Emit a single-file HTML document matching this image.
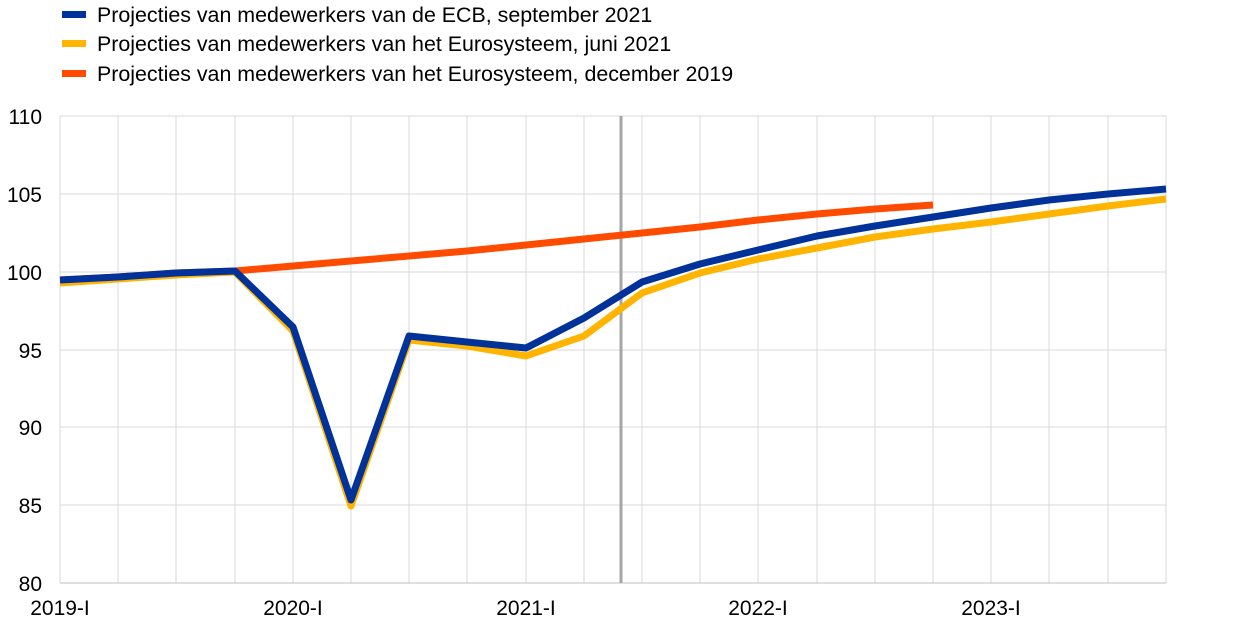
<!DOCTYPE html>
<html><head><meta charset="utf-8"><style>
body{margin:0;background:#fff;}
svg text{font-family:"Liberation Sans",Arial,sans-serif;fill:#000;}
</style></head><body>
<svg width="1240" height="634" xmlns="http://www.w3.org/2000/svg">
<g stroke="#d9d9d9" stroke-width="1">
<line x1="60" y1="116" x2="1166" y2="116"/><line x1="60" y1="194" x2="1166" y2="194"/>
<line x1="60" y1="272" x2="1166" y2="272"/><line x1="60" y1="350" x2="1166" y2="350"/>
<line x1="60" y1="427" x2="1166" y2="427"/><line x1="60" y1="505" x2="1166" y2="505"/>
<line x1="60" y1="116" x2="60" y2="583"/><line x1="118" y1="116" x2="118" y2="583"/><line x1="176" y1="116" x2="176" y2="583"/><line x1="235" y1="116" x2="235" y2="583"/><line x1="293" y1="116" x2="293" y2="583"/><line x1="351" y1="116" x2="351" y2="583"/><line x1="409" y1="116" x2="409" y2="583"/><line x1="467" y1="116" x2="467" y2="583"/><line x1="526" y1="116" x2="526" y2="583"/><line x1="584" y1="116" x2="584" y2="583"/><line x1="642" y1="116" x2="642" y2="583"/><line x1="700" y1="116" x2="700" y2="583"/><line x1="758" y1="116" x2="758" y2="583"/><line x1="817" y1="116" x2="817" y2="583"/><line x1="875" y1="116" x2="875" y2="583"/><line x1="933" y1="116" x2="933" y2="583"/><line x1="991" y1="116" x2="991" y2="583"/><line x1="1049" y1="116" x2="1049" y2="583"/><line x1="1108" y1="116" x2="1108" y2="583"/><line x1="1166" y1="116" x2="1166" y2="583"/>
</g>
<line x1="60" y1="583" x2="1166" y2="583" stroke="#bfbfbf" stroke-width="1"/>
<line x1="621" y1="116" x2="621" y2="583" stroke="#a6a6a6" stroke-width="3"/>
<g font-size="21" text-anchor="end">
<text x="42" y="124">110</text><text x="42" y="202">105</text><text x="42" y="280">100</text>
<text x="42" y="358">95</text><text x="42" y="435">90</text><text x="42" y="513">85</text><text x="42" y="591">80</text>
</g>
<g font-size="21" text-anchor="middle">
<text x="60" y="615">2019-I</text><text x="293" y="615">2020-I</text><text x="526" y="615">2021-I</text><text x="758" y="615">2022-I</text><text x="991" y="615">2023-I</text>
</g>
<g fill="none" stroke-width="7" stroke-linejoin="round">
<polyline stroke="#ff4b00" points="60,280 118,277 176,273 235,271 293,266 351,261 409,256 467,251 526,245 584,239 642,233 700,227 758,220 817,214 875,209 933,205"/>
<polyline stroke="#ffb400" points="60,283 118,279 176,275 235,272 293,331 351,506 409,340 467,346 526,356 584,336 642,293 700,273 758,259 817,248 875,237 933,229 991,222 1049,214 1108,206 1166,199"/>
<polyline stroke="#003299" points="60,280 118,277 176,273 235,271 293,327 351,500 409,336 467,342 526,348 584,318 642,282 700,264 758,250 817,236 875,226 933,217 991,208 1049,200 1108,194 1166,189"/>
</g>
<rect x="62" y="11" width="24" height="7" fill="#003299"/>
<rect x="62" y="40" width="24" height="7" fill="#ffb400"/>
<rect x="62" y="70" width="24" height="7" fill="#ff4b00"/>
<g font-size="21.4">
<text x="97" y="22">Projecties van medewerkers van de ECB, september 2021</text>
<text x="97" y="51">Projecties van medewerkers van het Eurosysteem, juni 2021</text>
<text x="97" y="81">Projecties van medewerkers van het Eurosysteem, december 2019</text>
</g>
</svg>
</body></html>
